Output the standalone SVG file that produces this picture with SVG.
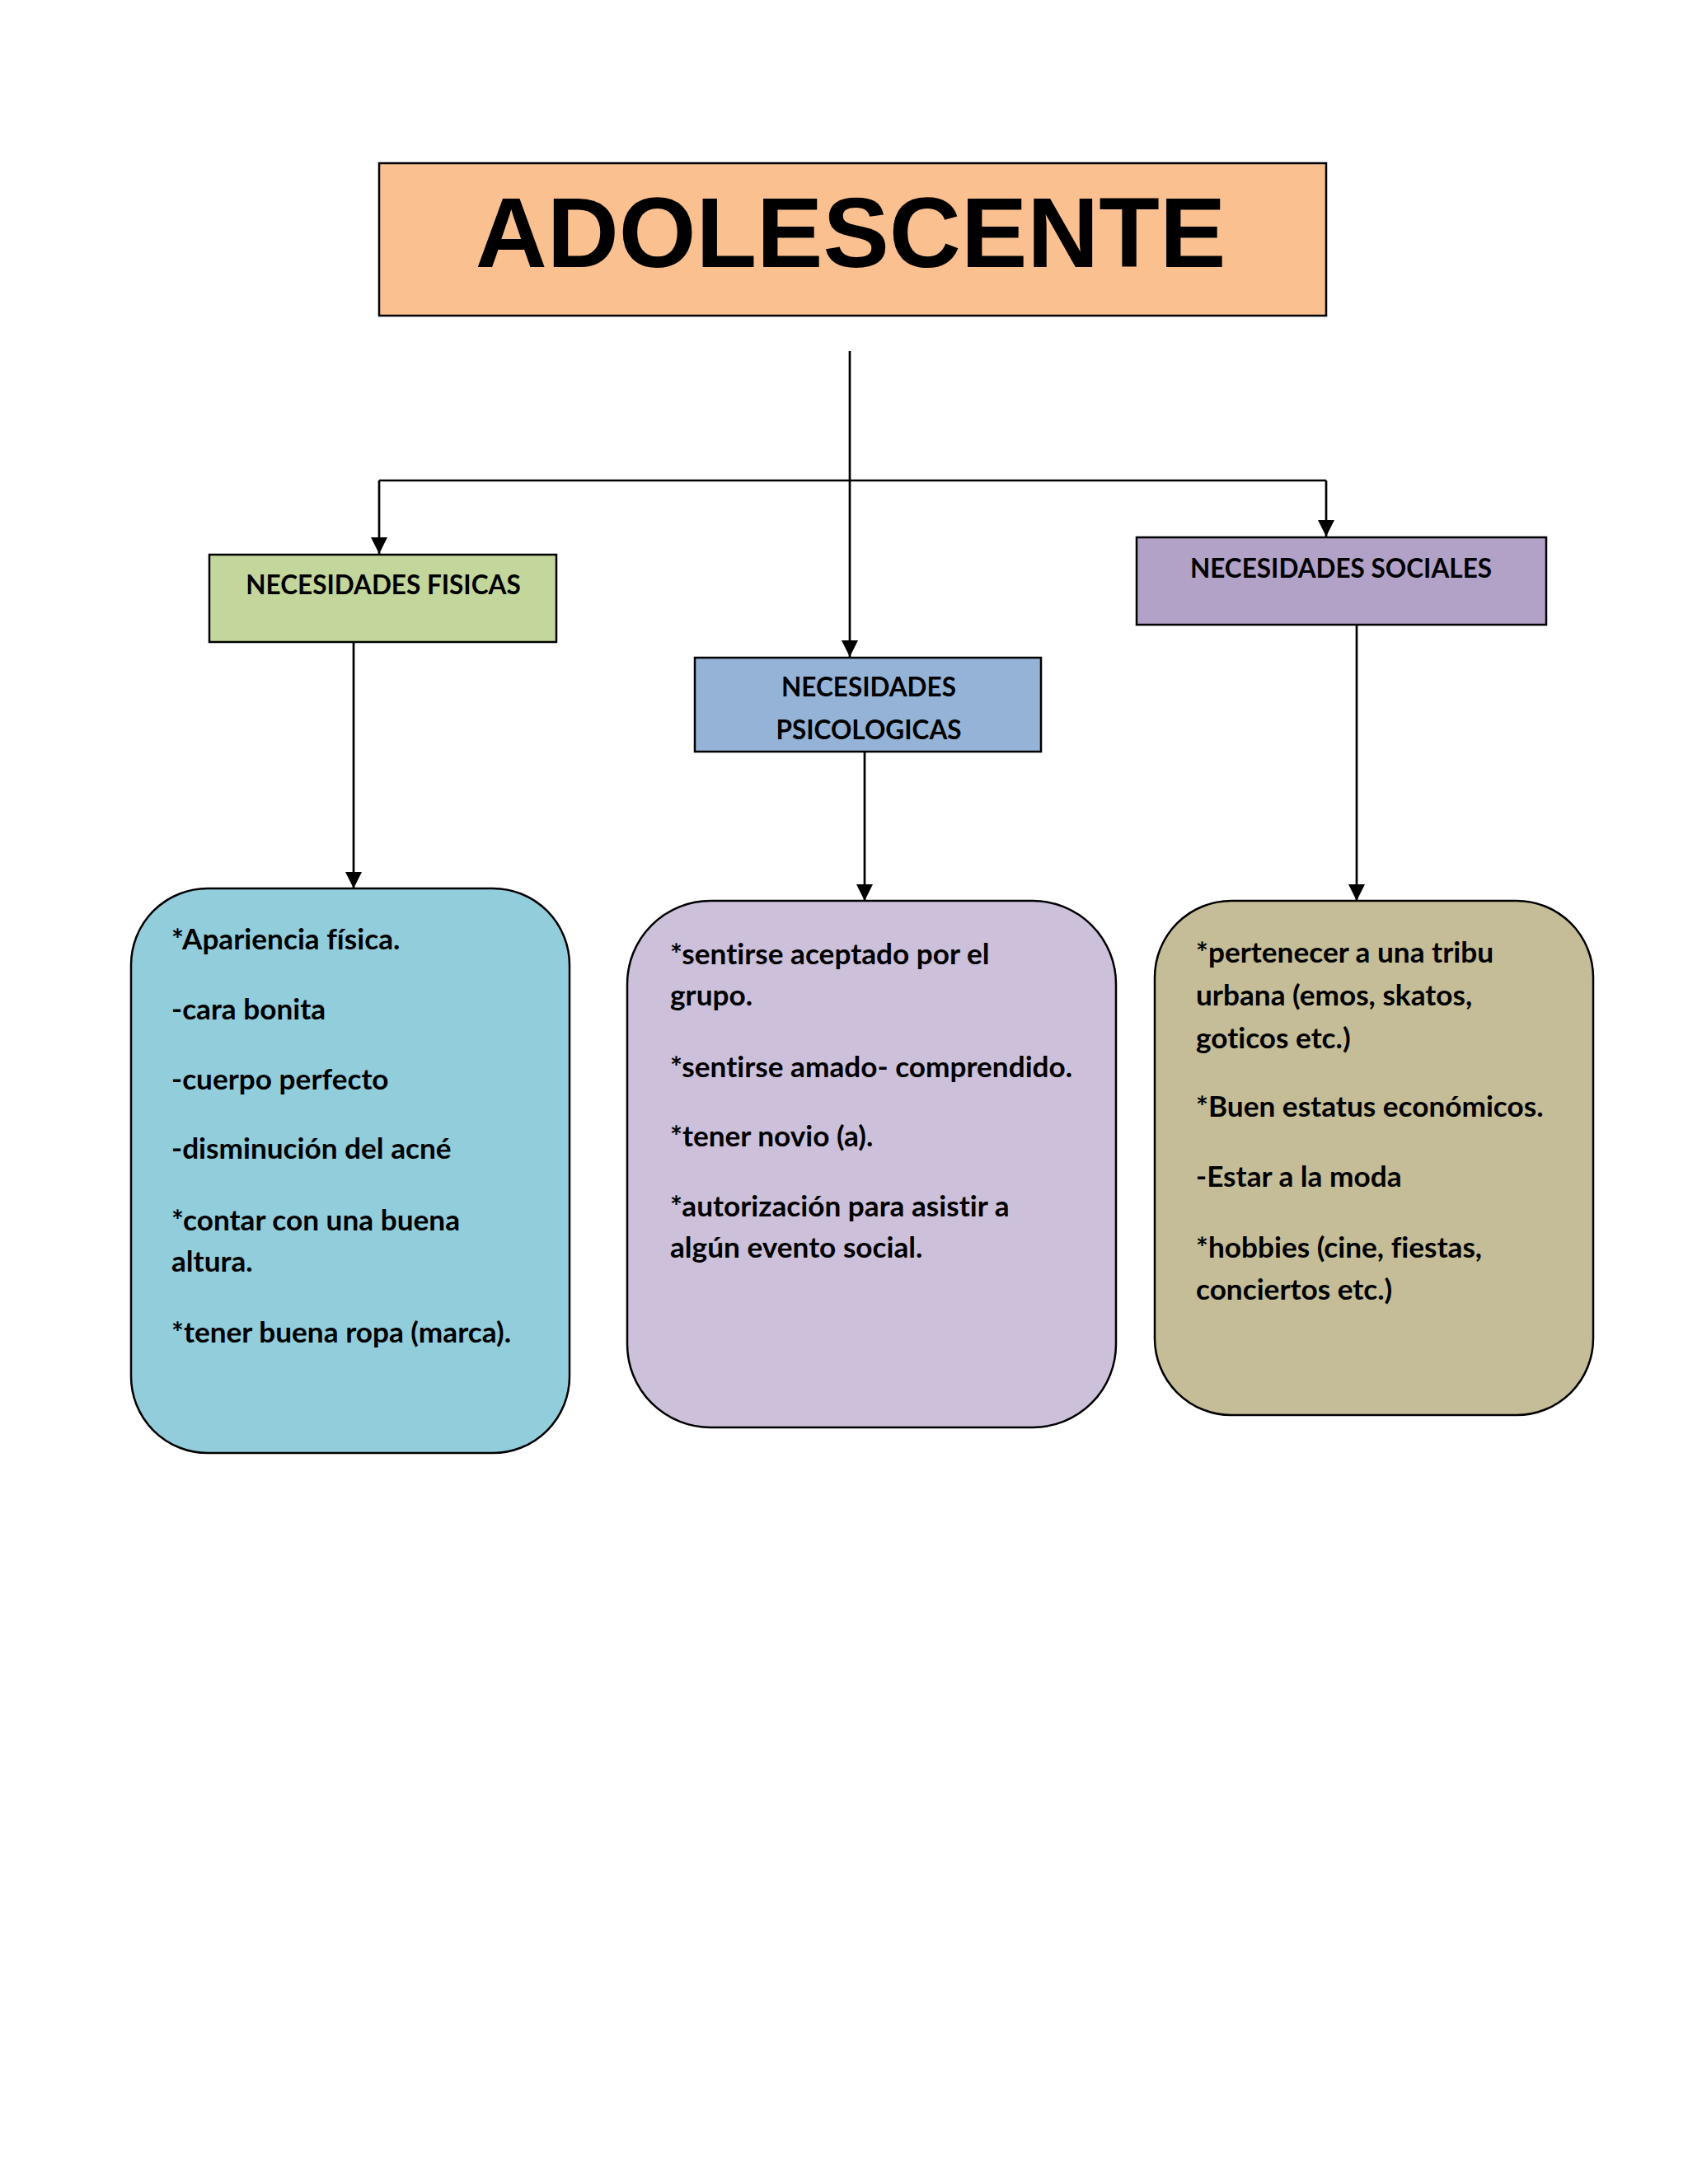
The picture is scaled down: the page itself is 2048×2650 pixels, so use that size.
<svg xmlns="http://www.w3.org/2000/svg" width="2048" height="2650" viewBox="0 0 2048 2650">
<style>
.box{stroke:#000;stroke-width:2.5}
.lbl{font-family:Lato,"Open Sans","Liberation Sans",sans-serif;font-weight:bold;font-size:31.5px;fill:#000;text-anchor:middle;font-variant-ligatures:none}
.body{font-family:Lato,"Open Sans","Liberation Sans",sans-serif;font-weight:bold;font-size:35.2px;fill:#000;font-variant-ligatures:none}
.con{stroke:#000;stroke-width:2.7;fill:none}
</style>
<defs>
<marker id="arr" markerUnits="userSpaceOnUse" markerWidth="20" markerHeight="20" refX="20" refY="10" orient="auto" viewBox="0 0 20 20">
<path d="M0,0 L20,10 L0,20 z" fill="#000"/>
</marker>
</defs>
<rect width="2048" height="2650" fill="#fff"/>
<g id="connectors">
<line class="con" x1="1031" y1="426" x2="1031" y2="797" marker-end="url(#arr)"/>
<line class="con" x1="460" y1="583" x2="1609" y2="583"/>
<line class="con" x1="460" y1="583" x2="460" y2="672" marker-end="url(#arr)"/>
<line class="con" x1="1609" y1="583" x2="1609" y2="651" marker-end="url(#arr)"/>
<line class="con" x1="429" y1="779" x2="429" y2="1078" marker-end="url(#arr)"/>
<line class="con" x1="1049" y1="912" x2="1049" y2="1093" marker-end="url(#arr)"/>
<line class="con" x1="1646" y1="759" x2="1646" y2="1093" marker-end="url(#arr)"/>
</g>
<g id="adolescente">
<rect class="box" x="460" y="198" width="1149" height="185" fill="#FAC090"/>
<text x="1032" y="324" font-family="Liberation Sans,Arial,sans-serif" font-weight="bold" font-size="120.5" text-anchor="middle">ADOLESCENTE</text>
</g>
<g id="fisicas">
<rect class="box" x="254" y="673" width="421" height="106" fill="#C3D69B"/>
<text class="lbl" x="465" y="721">NECESIDADES FISICAS</text>
</g>
<g id="psicologicas">
<rect class="box" x="843" y="798" width="420" height="114" fill="#95B3D7"/>
<text class="lbl" x="1054" y="845">NECESIDADES</text>
<text class="lbl" x="1054" y="897">PSICOLOGICAS</text>
</g>
<g id="sociales">
<rect class="box" x="1379" y="652" width="497" height="106" fill="#B2A2C7"/>
<text class="lbl" x="1627" y="701">NECESIDADES SOCIALES</text>
</g>
<g id="fisicas-detalle">
<rect class="box" x="159" y="1078" width="532" height="685" rx="93" fill="#92CDDC"/>
<text class="body" x="208" y="1152">*Apariencia física.</text>
<text class="body" x="208" y="1237">-cara bonita</text>
<text class="body" x="208" y="1322">-cuerpo perfecto</text>
<text class="body" x="208" y="1406">-disminución del acné</text>
<text class="body" x="208" y="1493">*contar con una buena</text>
<text class="body" x="208" y="1543">altura.</text>
<text class="body" x="208" y="1629">*tener buena ropa (marca).</text>
</g>
<g id="psicologicas-detalle">
<rect class="box" x="761" y="1093" width="593" height="639" rx="101" fill="#CCC0DA"/>
<text class="body" x="813" y="1170">*sentirse aceptado por el</text>
<text class="body" x="813" y="1220">grupo.</text>
<text class="body" x="813" y="1307">*sentirse amado- comprendido.</text>
<text class="body" x="813" y="1391">*tener novio (a).</text>
<text class="body" x="813" y="1476">*autorización para asistir a</text>
<text class="body" x="813" y="1526">algún evento social.</text>
</g>
<g id="sociales-detalle">
<rect class="box" x="1401" y="1093" width="532" height="624" rx="93" fill="#C4BD97"/>
<text class="body" x="1451" y="1168">*pertenecer a una tribu</text>
<text class="body" x="1451" y="1220">urbana (emos, skatos,</text>
<text class="body" x="1451" y="1272">goticos etc.)</text>
<text class="body" x="1451" y="1355">*Buen estatus económicos.</text>
<text class="body" x="1451" y="1440">-Estar a la moda</text>
<text class="body" x="1451" y="1526">*hobbies (cine, fiestas,</text>
<text class="body" x="1451" y="1577">conciertos etc.)</text>
</g>
</svg>
